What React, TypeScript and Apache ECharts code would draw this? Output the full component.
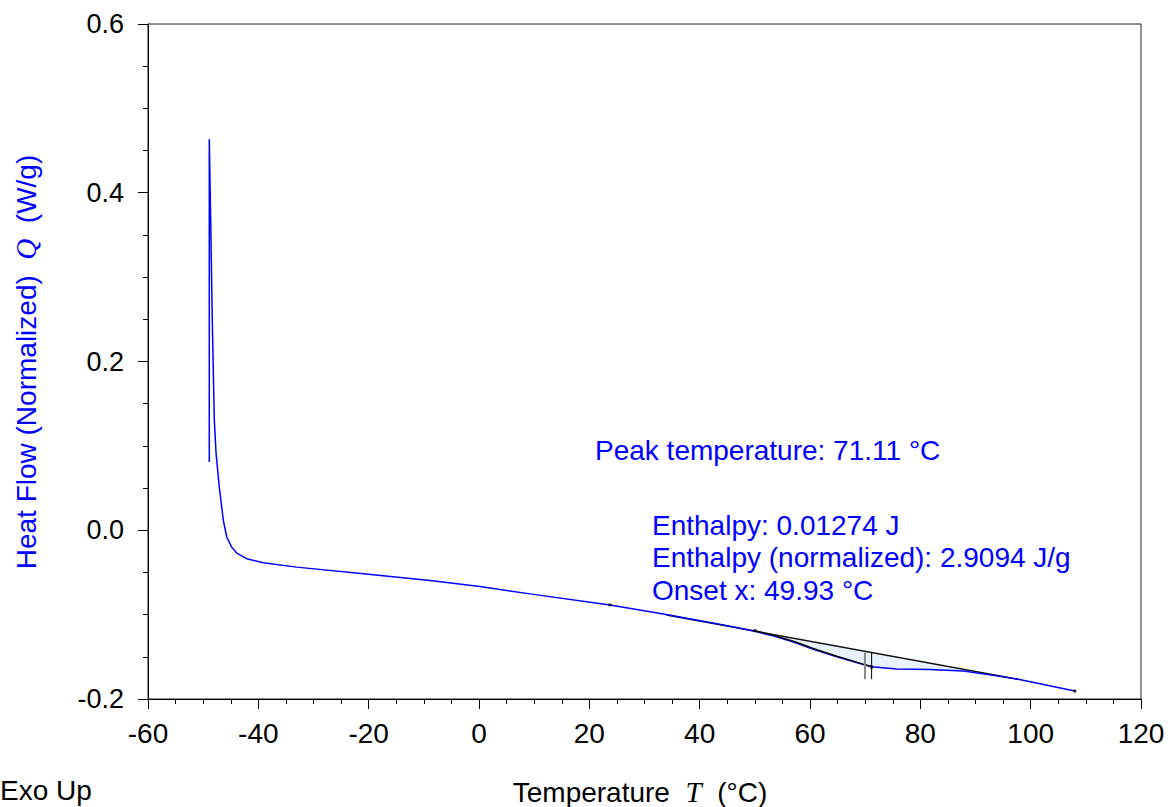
import React, { useEffect, useRef } from "react";
import * as echarts from "echarts";

// Heat flow curve (T °C, Q W/g)
const heatFlowCurve: [number, number][] = [
  [-48.89, 0.081],
  [-48.89, 0.4635],
  [-48.64, 0.369],
  [-48.35, 0.25],
  [-47.98, 0.131],
  [-47.67, 0.092],
  [-47.08, 0.051],
  [-46.35, 0.012],
  [-45.73, -0.008],
  [-44.83, -0.02],
  [-43.92, -0.027],
  [-42.11, -0.0337],
  [-39.1, -0.0385],
  [-33.05, -0.0437],
  [-20.97, -0.0515],
  [-8.88, -0.0595],
  [0.18, -0.0667],
  [9.24, -0.0754],
  [23.75, -0.0885],
  [33.41, -0.0992],
  [41.9, -0.1092],
  [46.0, -0.1145],
  [50.0, -0.1198],
  [53.3, -0.1252],
  [57.0, -0.1325],
  [60.6, -0.1412],
  [65.0, -0.1502],
  [69.65, -0.1592],
  [71.17, -0.1619],
  [75.7, -0.1643],
  [81.7, -0.165],
  [87.8, -0.1667],
  [93.8, -0.1726],
  [97.75, -0.1766],
  [108.0, -0.1905],
];

// Integration baseline
const baseline: [number, number][] = [
  [34.0, -0.1004],
  [97.75, -0.1766],
];

// Black overlay on the peak's leading edge
const peakEdge: [number, number][] = [
  [50.0, -0.119],
  [53.3, -0.1243],
  [57.0, -0.1315],
  [60.6, -0.1402],
  [65.0, -0.1496],
  [69.65, -0.1587],
  [71.17, -0.1615],
];

// Peak markers
const markerGray: [number, number][] = [
  [69.96, -0.1449],
  [69.96, -0.1765],
];
const markerBlack: [number, number][] = [
  [71.17, -0.1449],
  [71.17, -0.1765],
];

const dots: [number, number][] = [
  [23.75, -0.0885],
  [50.0, -0.119],
  [71.17, -0.162],
  [108.0, -0.1905],
];

const xTicks = { min: -60, max: 120, interval: 20 };
const yTicks = { min: -0.2, max: 0.6, interval: 0.2 };

const annotations = [
  { text: "Peak temperature: 71.11 °C", x: 595, y: 450 },
  { text: "Enthalpy: 0.01274 J", x: 652, y: 525 },
  { text: "Enthalpy (normalized): 2.9094 J/g", x: 652, y: 557 },
  { text: "Onset x: 49.93 °C", x: 652, y: 590 },
];

const SANS = "'Liberation Sans', Arial, Helvetica, sans-serif";
const SERIF = "'Liberation Serif', 'Times New Roman', serif";

export default function App() {
  const ref = useRef<HTMLDivElement>(null);

  useEffect(() => {
    if (!ref.current) return;
    const chart = echarts.init(ref.current, undefined, { renderer: "svg" });

    const fillStart = heatFlowCurve.findIndex((p) => p[0] >= 50.0);
    const fillEnd = heatFlowCurve.findIndex((p) => p[0] >= 97.75);
    const fillPoly = heatFlowCurve.slice(fillStart, fillEnd + 1).concat([...baseline].reverse().slice(0, 1));
    const b0 = baseline[0], b1 = baseline[1];
    const baseAt = (t: number) => b0[1] + ((t - b0[0]) / (b1[0] - b0[0])) * (b1[1] - b0[1]);
    fillPoly.push([50.0, baseAt(50.0)]);

    chart.setOption({
      animation: false,
      backgroundColor: "#ffffff",
      grid: {
        left: 148,
        right: 29,
        top: 24,
        bottom: 108,
        show: true,
        borderColor: "#222",
        borderWidth: 1,
        backgroundColor: "transparent",
      },
      xAxis: {
        type: "value",
        min: xTicks.min,
        max: xTicks.max,
        interval: xTicks.interval,
        axisLine: { show: true, onZero: false, lineStyle: { color: "#000", width: 1 } },
        axisTick: { show: true, inside: false, length: 10, lineStyle: { color: "#000" } },
        minorTick: { show: true, splitNumber: 4, length: 5, lineStyle: { color: "#000" } },
        splitLine: { show: false },
        axisLabel: { color: "#000", fontSize: 28, fontFamily: SANS, margin: 20 },
      },
      yAxis: {
        type: "value",
        min: yTicks.min,
        max: yTicks.max,
        interval: yTicks.interval,
        axisLine: { show: true, onZero: false, lineStyle: { color: "#000", width: 1 } },
        axisTick: { show: true, inside: false, length: 10, lineStyle: { color: "#000" } },
        minorTick: { show: true, splitNumber: 4, length: 5, lineStyle: { color: "#000" } },
        splitLine: { show: false },
        axisLabel: {
          color: "#000",
          fontSize: 27,
          fontFamily: SANS,
          margin: 24,
          formatter: (v: number) => v.toFixed(1),
        },
      },
      series: [
        {
          type: "custom",
          silent: true,
          z: 1,
          data: [[60, -0.14]],
          renderItem: (_params: any, api: any) => ({
            type: "polygon",
            shape: { points: fillPoly.map((p) => api.coord(p)) },
            style: { fill: "#e8f2fd", stroke: "none" },
          }),
        },
        {
          type: "line",
          data: baseline,
          showSymbol: false,
          z: 3,
          lineStyle: { color: "#111", width: 1.5 },
        },
        {
          type: "line",
          data: heatFlowCurve,
          showSymbol: false,
          z: 4,
          lineStyle: { color: "#0000ff", width: 1.5 },
        },
        {
          type: "line",
          data: peakEdge,
          showSymbol: false,
          z: 5,
          lineStyle: { color: "#111", width: 1.5 },
        },
        {
          type: "line",
          data: markerGray,
          showSymbol: false,
          z: 6,
          lineStyle: { color: "#888", width: 2 },
        },
        {
          type: "line",
          data: markerBlack,
          showSymbol: false,
          z: 6,
          lineStyle: { color: "#000", width: 1 },
        },
        {
          type: "scatter",
          data: dots,
          symbol: "rect",
          symbolSize: 3,
          z: 7,
          itemStyle: { color: "#000" },
        },
      ],
      graphic: [
        {
          type: "text",
          x: 26,
          y: 362,
          rotation: Math.PI / 2,
          style: {
            text: "{a|Heat Flow (Normalized)  }{b|Q}{a|  (W/g)}",
            fill: "#0000ff",
            align: "center",
            verticalAlign: "middle",
            rich: {
              a: { fontSize: 28, fontFamily: SANS, fill: "#0000ff", color: "#0000ff" },
              b: { fontSize: 29, fontFamily: SERIF, fontStyle: "italic", fill: "#0000ff", color: "#0000ff" },
            },
          },
        },
        {
          type: "text",
          x: 640,
          y: 792,
          style: {
            text: "{a|Temperature  }{b|T}{a|  (°C)}",
            fill: "#000",
            align: "center",
            verticalAlign: "middle",
            rich: {
              a: { fontSize: 28, fontFamily: SANS, fill: "#000", color: "#000" },
              b: { fontSize: 29, fontFamily: SERIF, fontStyle: "italic", fill: "#000", color: "#000" },
            },
          },
        },
        {
          type: "text",
          x: 0,
          y: 790,
          style: {
            text: "Exo Up",
            fill: "#000",
            fontSize: 28,
            fontFamily: SANS,
            align: "left",
            verticalAlign: "middle",
          },
        },
        ...annotations.map((a) => ({
          type: "text",
          x: a.x,
          y: a.y,
          style: {
            text: a.text,
            fill: "#0000ff",
            fontSize: 28,
            fontFamily: SANS,
            align: "left",
            verticalAlign: "middle",
          },
        })),
      ],
    });

    return () => chart.dispose();
  }, []);

  return (
    <div
      ref={ref}
      style={{ position: "fixed", left: 0, top: 0, width: 1170, height: 807, background: "#fff" }}
    />
  );
}
